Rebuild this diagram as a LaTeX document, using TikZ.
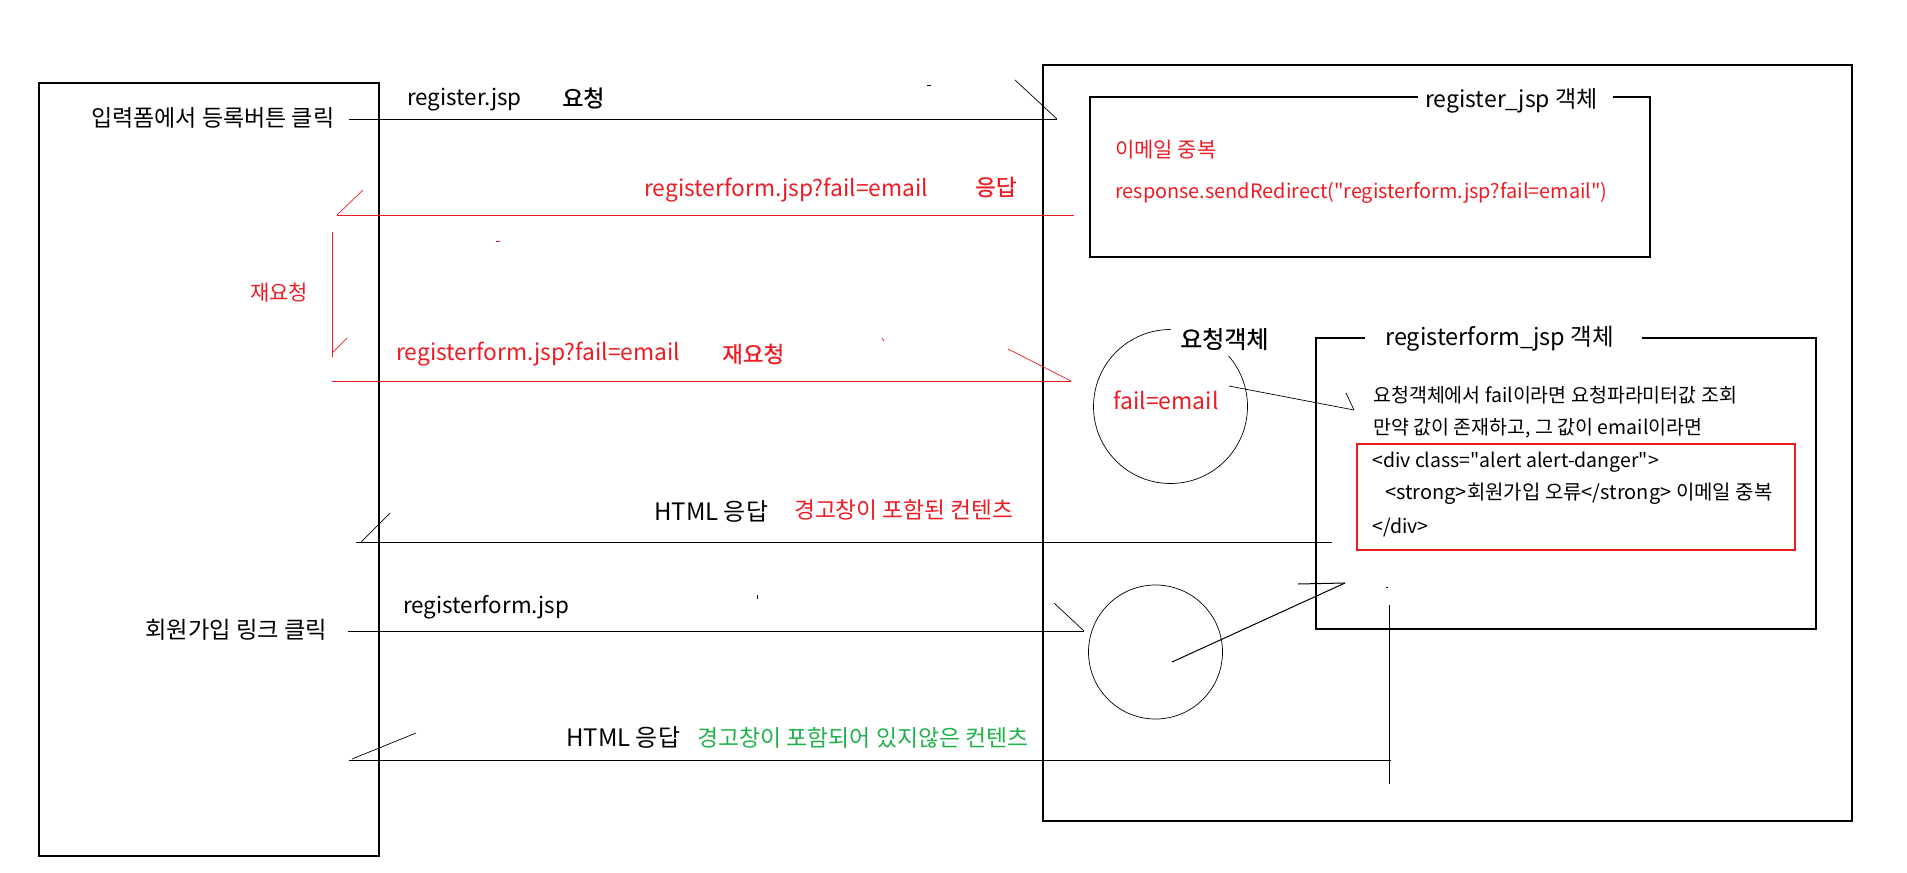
\documentclass[tikz,border=0pt]{standalone}
\usepackage{fontspec}
\setmainfont{Noto Sans CJK KR}[Ligatures=TeXOff]
\newfontfamily\medfont{Noto Sans CJK KR}[Ligatures=TeXOff, FakeBold=0.8]
\definecolor{pred}{RGB}{237,28,36}
\definecolor{pgreen}{RGB}{34,177,76}
\newcommand\myfs[1]{\fontsize{#1}{#1}\selectfont}
\begin{document}
\begin{tikzpicture}[x=1pt,y=-1pt,
  txt/.style={inner sep=0pt, anchor=west, text=black},
  redtxt/.style={txt, text=pred},
  greentxt/.style={txt, text=pgreen},
  boxline/.style={line width=1.2pt},
  conn/.style={line width=1pt},
  barb/.style={line width=0.7pt},
  thinline/.style={line width=0.7pt}]
\useasboundingbox (0,0) rectangle (1907,873);

% outer boxes
\draw[boxline] (39,83) rectangle (379,856);
\draw[boxline] (1043,65) rectangle (1852,821);

% left texts
\node[txt, font=\myfs{23}] (click1) at (91,118) {입력폼에서 등록버튼 클릭};
\node[txt, font=\myfs{23.3}] (click2) at (145,630) {회원가입 링크 클릭};

% labels on connectors
\node[txt, font=\myfs{22.4}] (reqjsp) at (407,100) {register.jsp};
\node[txt, font=\medfont\myfs{23}] (req) at (562,98) {요청};
\node[redtxt, font=\myfs{22.8}] (fail1) at (644,190) {registerform.jsp?fail=email};
\node[redtxt, font=\medfont\myfs{22.5}] (resp) at (975,187) {응답};
\node[redtxt, font=\myfs{21}] (rereq1) at (250,293) {재요청};
\node[redtxt, font=\myfs{22.8}] (fail2) at (396,354) {registerform.jsp?fail=email};
\node[redtxt, font=\medfont\myfs{22.5}] (rereq2) at (722,354) {재요청};
\node[txt, font=\myfs{24}] (html1) at (654,512) {HTML 응답};
\node[redtxt, font=\myfs{22.7}] (warn1) at (794,510) {경고창이 포함된 컨텐츠};
\node[txt, font=\myfs{22.4}] (formjsp) at (403,607) {registerform.jsp};
\node[txt, font=\myfs{24}] (html2) at (566,738) {HTML 응답};
\node[greentxt, font=\myfs{22.9}] (warn2) at (697,738) {경고창이 포함되어 있지않은 컨텐츠};

% register_jsp object box
\node[txt, font=\myfs{23}] (t1) at (1425,101) {register\_jsp 객체};
\draw[boxline] (1418,97) -- (1090,97) -- (1090,257) -- (1650,257) -- (1650,97) -- (1613,97);
\node[redtxt, font=\myfs{21}] (dup) at (1115,150) {이메일 중복};
\node[redtxt, font=\myfs{19.9}] (redir) at (1115,193) {response.sendRedirect("registerform.jsp?fail=email")};

% request object circle
\coordinate (c1) at (1170.5,406.5);
\draw[thinline] (c1) ++(-41:77) arc[start angle=-41, end angle=270, radius=77];
\node[txt, font=\medfont\myfs{24}] (reqobj) at (1180,339) {요청객체};
\node[redtxt, font=\myfs{23}] (failv) at (1113,400) {fail=email};

% registerform_jsp object box
\node[txt, font=\myfs{23.5}] (t2) at (1385,339) {registerform\_jsp 객체};
\draw[boxline] (1365,338) -- (1316,338) -- (1316,629) -- (1816,629) -- (1816,338) -- (1642,338);
\node[txt, font=\myfs{19.5}] (l1) at (1373,395) {요청객체에서 fail이라면 요청파라미터값 조회};
\node[txt, font=\myfs{19.5}] (l2) at (1373,428) {만약 값이 존재하고, 그 값이 email이라면};
\draw[line width=1.2pt, pred] (1357,444) rectangle (1795,550);
\node[txt, font=\myfs{19.5}] (l3) at (1372,462) {<div class="alert alert-danger">};
\node[txt, font=\myfs{20}] (l4) at (1385,494) {<strong>회원가입 오류</strong> 이메일 중복};
\node[txt, font=\myfs{19.5}] (l5) at (1372,527) {</div>};

% second circle
\node[draw, circle, thinline, minimum size=134pt, inner sep=0pt] (c2) at (1155.5,652) {};

% connector end points
\coordinate (a1s) at (349,119);   \coordinate (a1e) at (1057,119);
\coordinate (a2s) at (1074,215);  \coordinate (a2e) at (337,215);
\coordinate (a3s) at (332,232);   \coordinate (a3e) at (332,357);
\coordinate (a4s) at (332,381);   \coordinate (a4e) at (1071,381);
\coordinate (a5s) at (1332,542);  \coordinate (a5e) at (356,542);
\coordinate (a6s) at (348,631);   \coordinate (a6e) at (1084,631);
\coordinate (a7s) at (1172,662);  \coordinate (a7e) at (1345,583);
\coordinate (a8s) at (1229,386);  \coordinate (a8e) at (1354,410);
\coordinate (a9s) at (1389,605);  \coordinate (a9e) at (1389,784);
\coordinate (a10s) at (1391,760); \coordinate (a10e) at (349,760);

% connectors
\draw[conn] (a1s) -- (a1e);
\draw[barb] (a1e) -- (1015,80);
\draw[conn, pred] (a2s) -- (a2e);
\draw[barb, pred] (a2e) -- (363,190);
\draw[conn, pred] (a3s) -- (a3e);
\draw[barb, pred] (332,353) -- (347,338);
\draw[conn, pred] (a4s) -- (a4e);
\draw[barb, pred] (a4e) -- (1008,349);
\draw[conn] (a5s) -- (a5e);
\draw[barb] (361,542) -- (390,513);
\draw[conn] (a6s) -- (a6e);
\draw[barb] (a6e) -- (1054,603);
\draw[conn] (a7s) -- (a7e);
\draw[conn] (1298,584) -- (a7e);
\draw[thinline] (a8s) -- (a8e);
\draw[barb] (1346,393) -- (a8e);
\draw[thinline] (a9s) -- (a9e);
\draw[conn] (a10s) -- (a10e);
\draw[barb] (352,759) -- (416,733);

% stray marks
\draw[line width=1pt] (927,85) -- (931,85);
\draw[line width=1pt, pred] (496,241) -- (500,241);
\draw[line width=0.7pt, pred] (882,338) -- (884,341);
\draw[line width=1pt] (757,595) -- (757,599);
\draw[line width=1pt] (1386,587) -- (1388,587);
\end{tikzpicture}
\end{document}
